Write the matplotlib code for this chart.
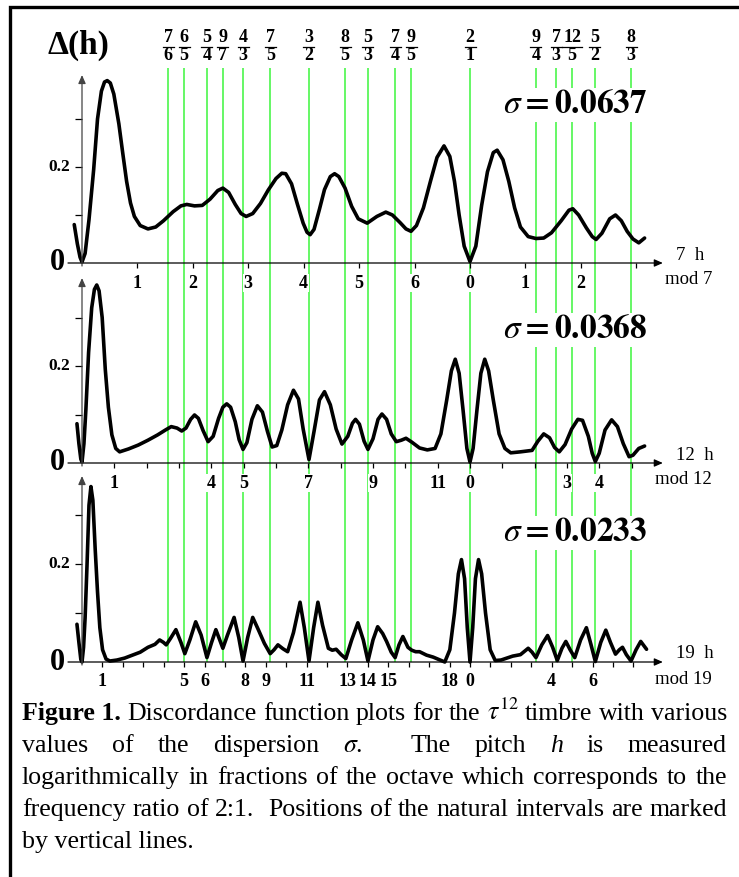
import matplotlib
matplotlib.use("Agg")
import matplotlib.pyplot as plt
import numpy as np

plt.rcParams["font.family"] = ["Liberation Serif", "DejaVu Serif"]
plt.rcParams["mathtext.fontset"] = "stix"

W, H = 739, 877
X0 = 82        # pixel column of h = 0
PX_OCT = 388   # pixels per octave

# natural intervals marked by the green lines
ratio_num = [7, 6, 5, 9, 4, 7, 3, 8, 5, 7, 9, 2, 9, 7, 12, 5, 8]
ratio_den = [6, 5, 4, 7, 3, 5, 2, 5, 3, 4, 5, 1, 4, 3, 5, 2, 3]

# discordance curves (h in octaves, delta)
h_0637 = [-0.020, -0.012, -0.005, 0.000, 0.008, 0.018, 0.030, 0.040, 0.050, 0.058, 0.065, 0.073,
          0.082, 0.095, 0.105, 0.115, 0.125, 0.135, 0.150, 0.170, 0.190, 0.210, 0.235, 0.255,
          0.270, 0.290, 0.310, 0.330, 0.350, 0.363, 0.378, 0.395, 0.410, 0.423, 0.440, 0.460,
          0.480, 0.500, 0.515, 0.525, 0.540, 0.555, 0.570, 0.580, 0.588, 0.598, 0.612, 0.625,
          0.640, 0.651, 0.662, 0.678, 0.695, 0.712, 0.735, 0.760, 0.783, 0.800, 0.820, 0.835,
          0.848, 0.862, 0.880, 0.898, 0.915, 0.933, 0.948, 0.960, 0.972, 0.985, 1.000, 1.015,
          1.030, 1.045, 1.060, 1.070, 1.085, 1.100, 1.115, 1.130, 1.150, 1.170, 1.190, 1.210,
          1.235, 1.255, 1.265, 1.280, 1.300, 1.315, 1.325, 1.340, 1.360, 1.375, 1.390, 1.405,
          1.420, 1.435, 1.450]
d_0637 = [0.080, 0.040, 0.012, 0.002, 0.020, 0.090, 0.194, 0.300, 0.358, 0.377, 0.380, 0.375,
          0.352, 0.290, 0.229, 0.170, 0.125, 0.097, 0.078, 0.071, 0.075, 0.088, 0.107, 0.119,
          0.122, 0.119, 0.120, 0.133, 0.151, 0.156, 0.147, 0.122, 0.103, 0.097, 0.103, 0.124,
          0.152, 0.176, 0.187, 0.186, 0.165, 0.123, 0.083, 0.064, 0.059, 0.070, 0.112, 0.153,
          0.180, 0.186, 0.180, 0.156, 0.118, 0.092, 0.083, 0.097, 0.106, 0.100, 0.084, 0.071,
          0.066, 0.078, 0.115, 0.170, 0.220, 0.244, 0.222, 0.170, 0.100, 0.035, 0.003, 0.035,
          0.120, 0.190, 0.230, 0.235, 0.215, 0.170, 0.115, 0.075, 0.055, 0.051, 0.052, 0.063,
          0.088, 0.110, 0.113, 0.100, 0.073, 0.055, 0.049, 0.062, 0.092, 0.100, 0.088, 0.066,
          0.050, 0.042, 0.052]

h_0368 = [-0.013, -0.008, -0.003, 0.000, 0.005, 0.010, 0.017, 0.025, 0.032, 0.038, 0.044, 0.052,
          0.060, 0.068, 0.077, 0.087, 0.097, 0.120, 0.145, 0.170, 0.195, 0.215, 0.230, 0.245,
          0.257, 0.268, 0.280, 0.290, 0.300, 0.312, 0.325, 0.338, 0.352, 0.363, 0.373, 0.383,
          0.395, 0.405, 0.415, 0.425, 0.438, 0.452, 0.465, 0.478, 0.490, 0.502, 0.515, 0.530,
          0.545, 0.558, 0.570, 0.585, 0.598, 0.612, 0.625, 0.640, 0.655, 0.670, 0.685, 0.697,
          0.705, 0.715, 0.727, 0.737, 0.750, 0.763, 0.773, 0.785, 0.797, 0.810, 0.823, 0.835,
          0.850, 0.870, 0.890, 0.910, 0.925, 0.940, 0.952, 0.962, 0.972, 0.982, 0.992, 1.000,
          1.008, 1.018, 1.028, 1.038, 1.048, 1.060, 1.075, 1.090, 1.105, 1.130, 1.160, 1.175,
          1.190, 1.205, 1.218, 1.230, 1.245, 1.262, 1.278, 1.290, 1.305, 1.315, 1.323, 1.333,
          1.348, 1.365, 1.380, 1.395, 1.410, 1.420, 1.435, 1.450]
d_0368 = [0.081, 0.040, 0.008, 0.002, 0.040, 0.110, 0.228, 0.320, 0.358, 0.367, 0.355, 0.300,
          0.193, 0.115, 0.058, 0.030, 0.023, 0.029, 0.037, 0.047, 0.058, 0.068, 0.075, 0.072,
          0.066, 0.072, 0.090, 0.099, 0.092, 0.067, 0.044, 0.055, 0.092, 0.115, 0.122, 0.115,
          0.085, 0.048, 0.028, 0.042, 0.090, 0.118, 0.105, 0.065, 0.033, 0.036, 0.068, 0.120,
          0.150, 0.132, 0.070, 0.007, 0.065, 0.130, 0.147, 0.120, 0.070, 0.039, 0.055, 0.082,
          0.090, 0.080, 0.045, 0.028, 0.050, 0.090, 0.101, 0.090, 0.060, 0.044, 0.047, 0.051,
          0.043, 0.031, 0.027, 0.030, 0.060, 0.130, 0.190, 0.214, 0.185, 0.110, 0.030, 0.002,
          0.030, 0.110, 0.185, 0.214, 0.190, 0.130, 0.060, 0.030, 0.021, 0.023, 0.026, 0.045,
          0.060, 0.052, 0.032, 0.023, 0.038, 0.070, 0.090, 0.088, 0.055, 0.020, 0.003, 0.020,
          0.068, 0.089, 0.075, 0.040, 0.013, 0.016, 0.030, 0.035]

h_0233 = [-0.013, -0.008, -0.003, 0.000, 0.004, 0.008, 0.013, 0.018, 0.023, 0.028, 0.034, 0.040,
          0.046, 0.053, 0.062, 0.072, 0.090, 0.110, 0.130, 0.150, 0.170, 0.188, 0.200, 0.210,
          0.217, 0.228, 0.242, 0.255, 0.265, 0.278, 0.293, 0.307, 0.322, 0.334, 0.345, 0.355,
          0.363, 0.375, 0.392, 0.404, 0.415, 0.427, 0.440, 0.455, 0.470, 0.485, 0.495, 0.505,
          0.518, 0.530, 0.545, 0.562, 0.573, 0.585, 0.597, 0.608, 0.620, 0.635, 0.645, 0.655,
          0.668, 0.680, 0.695, 0.711, 0.725, 0.737, 0.750, 0.762, 0.775, 0.785, 0.797, 0.807,
          0.817, 0.827, 0.840, 0.850, 0.860, 0.870, 0.888, 0.905, 0.920, 0.935, 0.948, 0.960,
          0.970, 0.978, 0.986, 0.993, 1.000, 1.007, 1.014, 1.022, 1.030, 1.040, 1.052, 1.065,
          1.080, 1.110, 1.130, 1.150, 1.160, 1.170, 1.185, 1.200, 1.213, 1.225, 1.237, 1.247,
          1.258, 1.270, 1.285, 1.300, 1.312, 1.323, 1.337, 1.350, 1.362, 1.375, 1.385, 1.393,
          1.403, 1.415, 1.428, 1.440, 1.455]
d_0233 = [0.077, 0.040, 0.005, 0.000, 0.030, 0.090, 0.199, 0.320, 0.358, 0.330, 0.230, 0.143,
          0.070, 0.025, 0.006, 0.002, 0.004, 0.008, 0.014, 0.020, 0.030, 0.036, 0.045, 0.040,
          0.035, 0.048, 0.066, 0.040, 0.017, 0.045, 0.082, 0.055, 0.009, 0.040, 0.066, 0.045,
          0.028, 0.055, 0.091, 0.050, 0.002, 0.050, 0.091, 0.065, 0.038, 0.017, 0.025, 0.035,
          0.027, 0.021, 0.060, 0.122, 0.070, 0.002, 0.070, 0.122, 0.075, 0.028, 0.024, 0.026,
          0.015, 0.007, 0.045, 0.080, 0.045, 0.002, 0.045, 0.072, 0.058, 0.042, 0.020, 0.009,
          0.035, 0.052, 0.030, 0.024, 0.021, 0.021, 0.014, 0.010, 0.005, 0.000, 0.025, 0.100,
          0.180, 0.209, 0.170, 0.070, 0.000, 0.070, 0.170, 0.209, 0.180, 0.100, 0.025, 0.003,
          0.004, 0.012, 0.015, 0.028, 0.020, 0.009, 0.035, 0.054, 0.030, 0.003, 0.028, 0.042,
          0.025, 0.009, 0.045, 0.070, 0.035, 0.001, 0.040, 0.065, 0.040, 0.016, 0.025, 0.030,
          0.015, 0.002, 0.025, 0.042, 0.026]

# x tick labels (step number -> printed residue)
ticks_7 = {1: "1", 2: "2", 3: "3", 4: "4", 5: "5", 6: "6", 7: "0", 8: "1", 9: "2"}
ticks_12 = {1: "1", 4: "4", 5: "5", 7: "7", 9: "9", 11: "11", 12: "0", 15: "3", 16: "4"}
ticks_19 = {1: "1", 5: "5", 6: "6", 8: "8", 9: "9", 11: "11", 13: "13", 14: "14", 15: "15",
            18: "18", 19: "0", 23: "4", 25: "6"}

sigmas = ["0.0637", "0.0368", "0.0233"]

caption_lines = [
    [("Figure 1.", "bold", 0), ("Discordance", "normal", 1), ("function", "normal", 1),
     ("plots", "normal", 1), ("for", "normal", 1), ("the", "normal", 1),
     (r"$\tau^{12}$", "normal", 1), ("timbre", "normal", 1), ("with", "normal", 1),
     ("various", "normal", 1)],
    [("values", "normal", 0), ("of", "normal", 1), ("the", "normal", 1),
     ("dispersion", "normal", 1), (r"$\sigma$.", "normal", 1), ("The", "normal", 2),
     ("pitch", "normal", 1), ("h", "italic", 1), ("is", "normal", 1), ("measured", "normal", 1)],
    [(w, "normal", 0 if i == 0 else 1) for i, w in enumerate(
        "logarithmically in fractions of the octave which corresponds to the".split())],
    [("frequency", "normal", 0), ("ratio", "normal", 1), ("of", "normal", 1),
     ("2:1.", "normal", 1), ("Positions", "normal", 2), ("of", "normal", 1),
     ("the", "normal", 1), ("natural", "normal", 1), ("intervals", "normal", 1),
     ("are", "normal", 1), ("marked", "normal", 1)],
]
caption_last = "by vertical lines."

fig = plt.figure(figsize=(W / 100, H / 100), dpi=100)
hlim = (-X0 / PX_OCT, (W - X0) / PX_OCT)

# layer for the green interval lines (x in octaves, y in pixels)
bg = fig.add_axes([0, 0, 1, 1])
bg.set_xlim(hlim)
bg.set_ylim(H, 0)
bg.axis("off")

hpos = np.log2(np.array(ratio_num) / np.array(ratio_den))
bg.vlines(hpos, 68, 662, color="#3cf53c", lw=1.1)
for x, n, d in zip(hpos, ratio_num, ratio_den):
    bg.text(x, 38, str(n), ha="center", va="center", fontsize=13, fontweight="bold")
    bg.text(x, 56, str(d), ha="center", va="center", fontsize=13, fontweight="bold")
    hw = (4.5 * len(str(n)) + 1) / PX_OCT
    bg.plot([x - hw, x + hw], [47, 47], color="black", lw=0.9)

panels = [
    (h_0637, d_0637, sigmas[0], 7, ticks_7, 263, 480, 75, 105),
    (h_0368, d_0368, sigmas[1], 12, ticks_12, 463, 485, 278, 330),
    (h_0233, d_0233, sigmas[2], 19, ticks_19, 662, 490, 476, 533),
]

arrow = dict(arrowstyle="-|>,head_length=0.5,head_width=0.22", color="black", lw=0.9,
             shrinkA=0, shrinkB=0)
for h, d, sig, n, labels, base, scale, top, sig_y in panels:
    ax = fig.add_axes([0, 0, 1, 1])
    ax.set_xlim(hlim)
    ax.set_ylim((base - H) / scale, base / scale)
    ax.axis("off")
    ax.patch.set_alpha(0)
    py = 1.0 / scale      # one pixel vertically
    px = 1.0 / PX_OCT     # one pixel horizontally

    # axes with arrows
    ax.annotate("", xy=(1.497, 0), xytext=(-14 * px, 0), arrowprops=arrow)
    ax.annotate("", xy=(0, (base - top) * py), xytext=(0, -3 * py),
                arrowprops=dict(arrow, color="#444444"))

    # x ticks and residue labels
    steps = np.arange(1, int(1.47 * n) + 1)
    ax.vlines(steps / n, -5 * py, 0, color="black", lw=0.9)
    for k, lab in labels.items():
        ax.text(k / n, -20 * py, lab, ha="center", va="center", fontsize=13,
                fontweight="bold", bbox=dict(fc="white", ec="none", pad=0.4))

    # y ticks
    ax.hlines([0.1, 0.2, 0.3], -7 * px, 0, color="black", lw=0.9)
    ax.text(-23 * px, 0.2, "0.2", ha="center", va="center", fontsize=12.5, fontweight="bold")
    ax.text(-25 * px, 0, "0", ha="center", va="center", fontsize=22, fontweight="bold")

    ax.plot(h, d, color="black", lw=2.6, solid_joinstyle="round", solid_capstyle="round")

    ax.text((575 - X0) * px, (base - sig_y) * py, r"$\sigma\mathbf{=" + sig + "}$",
            ha="center", va="center", fontsize=24,
            bbox=dict(fc="white", ec="none", pad=1))
    ax.text((676 - X0) * px, 8 * py, f"{n}  h", ha="left", va="center", fontsize=13.5)
    ax.text((712 - X0) * px, -17 * py, f"mod {n}", ha="right", va="center", fontsize=13.5)

# pixel layer: frame, y label, caption
pix = fig.add_axes([0, 0, 1, 1])
pix.set_xlim(0, W)
pix.set_ylim(H, 0)
pix.axis("off")
pix.patch.set_alpha(0)
pix.plot([10, 10, 737], [H, 7, 7], color="black", lw=2.4, solid_joinstyle="miter")
pix.text(78, 45, "\u0394(h)", ha="center", va="center", fontsize=24, fontweight="bold")

CAP_FS = 18.6
left, right = 22, 727
baselines = [720, 752, 784, 816, 848]
fig.canvas.draw()
rend = fig.canvas.get_renderer()
for line, yb in zip(caption_lines, baselines):
    arts = []
    for word, style, gap in line:
        kw = dict(fontsize=CAP_FS, va="baseline", ha="left")
        if style == "bold":
            kw["fontweight"] = "bold"
        elif style == "italic":
            kw["fontstyle"] = "italic"
        arts.append((pix.text(0, yb, word, **kw), gap))
    widths = [t.get_window_extent(rend).width for t, _ in arts]
    extra = (right - left - sum(widths)) / sum(g for _, g in arts)
    x = left
    for (t, gap), w in zip(arts, widths):
        x += gap * extra
        t.set_x(x)
        x += w
pix.text(left, baselines[-1], caption_last, fontsize=CAP_FS, va="baseline", ha="left")

fig.savefig("out.png", dpi=100)
